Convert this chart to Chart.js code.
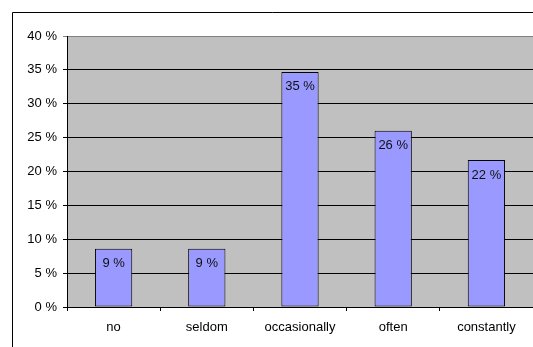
<!DOCTYPE html>
<html>
<head>
<meta charset="utf-8">
<script src="https://cdn.jsdelivr.net/npm/chart.js@4/dist/chart.umd.min.js"></script>
<style>
  html, body { margin: 0; padding: 0; background: #fff; }
  canvas { display: block; }
</style>
</head>
<body>
<canvas id="freqChart" width="533" height="347"></canvas>
<script>
// answer categories and share of responses (%)
const categories = ['no', 'seldom', 'occasionally', 'often', 'constantly'];
const shares = [8.6, 8.6, 34.7, 26.0, 21.7];
const yTicks = [0, 5, 10, 15, 20, 25, 30, 35, 40];

const font = { family: '"Liberation Sans", Arial, sans-serif', size: 13 };

// grey plot background and the outer frame lines
const backdrop = {
  id: 'backdrop',
  beforeDraw(chart) {
    const { ctx, chartArea: a } = chart;
    ctx.save();
    ctx.fillStyle = '#c0c0c0';
    ctx.fillRect(a.left, a.top, a.right - a.left, a.bottom - a.top);
    ctx.strokeStyle = '#000';
    ctx.lineWidth = 1;
    ctx.beginPath();
    ctx.moveTo(12.5, chart.height);
    ctx.lineTo(12.5, 12.5);
    ctx.lineTo(chart.width, 12.5);
    ctx.stroke();
    ctx.restore();
  }
};

// value labels just inside the top of each bar
const barLabels = {
  id: 'barLabels',
  afterDatasetsDraw(chart) {
    const { ctx } = chart;
    const meta = chart.getDatasetMeta(0);
    ctx.save();
    ctx.font = font.size + 'px ' + font.family;
    ctx.fillStyle = '#111';
    ctx.textAlign = 'center';
    ctx.textBaseline = 'middle';
    meta.data.forEach((bar, i) => {
      ctx.fillText(Math.round(shares[i]) + ' %', bar.x, bar.y + 15);
    });
    ctx.restore();
  }
};

const ctx = document.getElementById('freqChart').getContext('2d');
const freqChart = new Chart(ctx, {
  type: 'bar',
  data: {
    labels: categories,
    datasets: [{
      data: shares,
      backgroundColor: '#9999ff',
      borderColor: '#000',
      borderWidth: 1,
      borderSkipped: false,
      categoryPercentage: 1,
      barPercentage: 0.4,
    }],
  },
  options: {
    responsive: false,
    animation: false,
    devicePixelRatio: 1,
    layout: { padding: { top: 36, right: 0, left: 0, bottom: 0 } },
    plugins: {
      legend: { display: false },
      tooltip: { enabled: false },
    },
    scales: {
      x: {
        afterFit(scale) { scale.height = 40; },
        grid: { drawOnChartArea: false, drawTicks: true, tickLength: 4, color: '#000', offset: true },
        border: { color: '#000', width: 1 },
        ticks: { color: '#000', font: font, padding: 9, maxRotation: 0 },
      },
      y: {
        min: 0,
        max: 40,
        afterFit(scale) { scale.width = 67; },
        afterBuildTicks(scale) { scale.ticks = yTicks.map(v => ({ value: v })); },
        grid: {
          color: (c) => (c.tick && c.tick.value === 40 ? '#808080' : '#000'),
          tickLength: 4,
          lineWidth: 1,
        },
        border: { color: '#000', width: 1 },
        ticks: {
          color: '#000',
          font: font,
          padding: 6,
          callback: (v) => v + ' %',
        },
      },
    },
  },
  plugins: [backdrop, barLabels],
});
</script>
</body>
</html>
